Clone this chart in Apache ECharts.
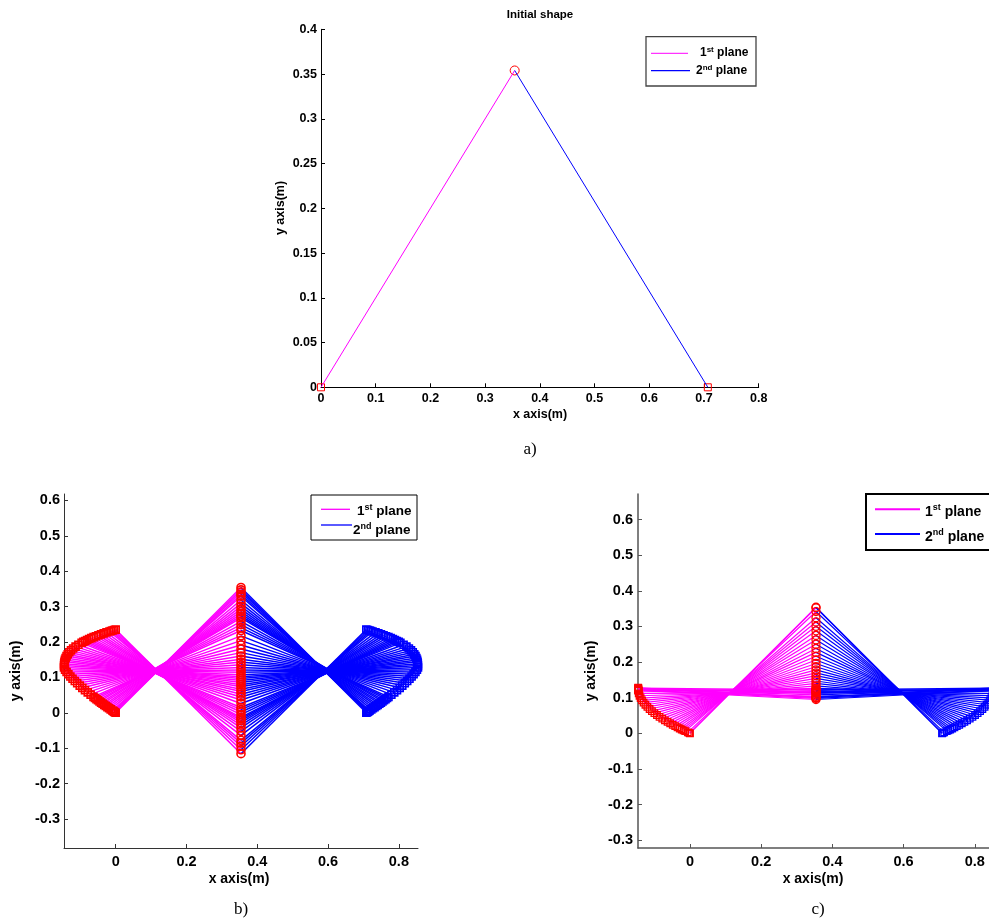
<!DOCTYPE html>
<html>
<head>
<meta charset="utf-8">
<script src="https://cdn.jsdelivr.net/npm/echarts@6/dist/echarts.min.js"></script>
<style>html,body{margin:0;padding:0;background:#fff}#c{width:989px;height:921px}</style>
</head>
<body>
<div id="c"></div>
<script>
// ---------- (a) initial shape ----------
const shapeXA = [0, 0.354, 0.707];
const shapeYA = [0, 0.354, 0];
const xTicksA = [0, 0.1, 0.2, 0.3, 0.4, 0.5, 0.6, 0.7, 0.8];
const yTicksA = [0, 0.05, 0.1, 0.15, 0.2, 0.25, 0.3, 0.35, 0.4];

// ---------- (b) ----------
const midXB = 0.354;
const leftXB = [0, -0.0024, -0.0047, -0.0071, -0.0094, -0.0141, -0.0187, -0.0233, -0.0278, -0.0323, -0.0368, -0.0412, -0.0456, -0.0499, -0.0542, -0.0584, -0.0626, -0.0708, -0.0789, -0.0867, -0.0943, -0.1016, -0.1087, -0.1155, -0.1219, -0.128, -0.1336, -0.1387, -0.143, -0.146, -0.1459, -0.1455, -0.1447, -0.1434, -0.1414, -0.1388, -0.1354, -0.1312, -0.1262, -0.1202, -0.1133, -0.1053, -0.0963, -0.0914, -0.0861, -0.0807, -0.0749, -0.0688, -0.0624, -0.0557, -0.0487, -0.0414, -0.0338, -0.0259, -0.0176, -0.0133, -0.009, -0.0045, 0];
const leftYB = [0, 0.0016, 0.0032, 0.0048, 0.0064, 0.0096, 0.0128, 0.016, 0.0192, 0.0224, 0.0256, 0.0288, 0.032, 0.0352, 0.0384, 0.0416, 0.0448, 0.0512, 0.0576, 0.064, 0.0704, 0.0768, 0.0832, 0.0896, 0.096, 0.1024, 0.1088, 0.1152, 0.1216, 0.128, 0.1334, 0.1387, 0.1441, 0.1494, 0.1548, 0.1601, 0.1655, 0.1708, 0.1762, 0.1815, 0.1869, 0.1922, 0.1976, 0.2002, 0.2029, 0.2056, 0.2083, 0.2109, 0.2136, 0.2163, 0.219, 0.2216, 0.2243, 0.227, 0.2297, 0.231, 0.2323, 0.2337, 0.235];
const midYB = [0.354, 0.3472, 0.341, 0.3349, 0.3293, 0.3187, 0.3092, 0.3006, 0.2929, 0.2858, 0.2793, 0.2734, 0.268, 0.2583, 0.2491, 0.2405, 0.2323, 0.2173, 0.2038, 0.1915, 0.1802, 0.1699, 0.1604, 0.1515, 0.1432, 0.1354, 0.128, 0.121, 0.1142, 0.1077, 0.1021, 0.0966, 0.0909, 0.0852, 0.0793, 0.0732, 0.0667, 0.06, 0.0526, 0.0448, 0.036, 0.0262, 0.015, 0.0089, 0.0021, -0.0051, -0.0131, -0.0173, -0.0223, -0.0281, -0.035, -0.0429, -0.0525, -0.0639, -0.0778, -0.0857, -0.0944, -0.1046, -0.1155];
const rightXB = [0.708, 0.7104, 0.7127, 0.7151, 0.7174, 0.7221, 0.7267, 0.7313, 0.7358, 0.7403, 0.7448, 0.7492, 0.7536, 0.7579, 0.7622, 0.7664, 0.7706, 0.7788, 0.7869, 0.7947, 0.8023, 0.8096, 0.8167, 0.8235, 0.8299, 0.836, 0.8416, 0.8467, 0.851, 0.854, 0.8539, 0.8535, 0.8527, 0.8514, 0.8494, 0.8468, 0.8434, 0.8392, 0.8342, 0.8282, 0.8213, 0.8133, 0.8043, 0.7994, 0.7941, 0.7887, 0.7829, 0.7768, 0.7704, 0.7637, 0.7567, 0.7494, 0.7418, 0.7339, 0.7256, 0.7213, 0.717, 0.7125, 0.708];
const rightYB = [0, 0.0016, 0.0032, 0.0048, 0.0064, 0.0096, 0.0128, 0.016, 0.0192, 0.0224, 0.0256, 0.0288, 0.032, 0.0352, 0.0384, 0.0416, 0.0448, 0.0512, 0.0576, 0.064, 0.0704, 0.0768, 0.0832, 0.0896, 0.096, 0.1024, 0.1088, 0.1152, 0.1216, 0.128, 0.1334, 0.1387, 0.1441, 0.1494, 0.1548, 0.1601, 0.1655, 0.1708, 0.1762, 0.1815, 0.1869, 0.1922, 0.1976, 0.2002, 0.2029, 0.2056, 0.2083, 0.2109, 0.2136, 0.2163, 0.219, 0.2216, 0.2243, 0.227, 0.2297, 0.231, 0.2323, 0.2337, 0.235];
const xTicksB = [0, 0.2, 0.4, 0.6, 0.8];
const yTicksB = [-0.3, -0.2, -0.1, 0, 0.1, 0.2, 0.3, 0.4, 0.5, 0.6];

// ---------- (c) ----------
const midXC = 0.354;
const leftXC = [0, -0.0015, -0.006, -0.0133, -0.0179, -0.0231, -0.0287, -0.0349, -0.0415, -0.0484, -0.0556, -0.0629, -0.0704, -0.0779, -0.0855, -0.0928, -0.1, -0.1069, -0.1134, -0.1196, -0.1252, -0.1303, -0.1348, -0.1386, -0.1417, -0.144, -0.146, -0.1455, -0.145, -0.1445, -0.146, -0.1455, -0.145, -0.144, -0.146, -0.1458, -0.1452];
const leftYC = [0, 0.0007, 0.0027, 0.0061, 0.0083, 0.0108, 0.0136, 0.0168, 0.0202, 0.0239, 0.0279, 0.0321, 0.0366, 0.0414, 0.0463, 0.0515, 0.0569, 0.0625, 0.0683, 0.0742, 0.0802, 0.0864, 0.0927, 0.099, 0.1055, 0.1119, 0.125, 0.128, 0.122, 0.119, 0.126, 0.123, 0.127, 0.12, 0.124, 0.121, 0.125];
const midYC = [0.354, 0.3524, 0.3419, 0.3245, 0.3127, 0.3004, 0.2879, 0.275, 0.2625, 0.2502, 0.2384, 0.2272, 0.2163, 0.206, 0.1962, 0.187, 0.1782, 0.1698, 0.1618, 0.1542, 0.147, 0.14, 0.1332, 0.1267, 0.1203, 0.1141, 0.1016, 0.100, 0.098, 0.104, 0.112, 0.118, 0.122, 0.125, 0.108, 0.095, 0.115];
const rightXC = [0.708, 0.7095, 0.714, 0.7213, 0.7259, 0.7311, 0.7367, 0.7429, 0.7495, 0.7564, 0.7636, 0.7709, 0.7784, 0.7859, 0.7935, 0.8008, 0.808, 0.8149, 0.8214, 0.8276, 0.8332, 0.8383, 0.8428, 0.8466, 0.8497, 0.852, 0.854, 0.8535, 0.853, 0.8525, 0.854, 0.8535, 0.853, 0.852, 0.854, 0.8538, 0.8532];
const rightYC = [0, 0.0007, 0.0027, 0.0061, 0.0083, 0.0108, 0.0136, 0.0168, 0.0202, 0.0239, 0.0279, 0.0321, 0.0366, 0.0414, 0.0463, 0.0515, 0.0569, 0.0625, 0.0683, 0.0742, 0.0802, 0.0864, 0.0927, 0.099, 0.1055, 0.1119, 0.125, 0.128, 0.122, 0.119, 0.126, 0.123, 0.127, 0.12, 0.124, 0.121, 0.125];
const xTicksC = [0, 0.2, 0.4, 0.6, 0.8];
const yTicksC = [-0.3, -0.2, -0.1, 0, 0.1, 0.2, 0.3, 0.4, 0.5, 0.6];

// ---------- styling ----------
const FONT = 'Liberation Sans, Arial, Helvetica, sans-serif';
const SERIF = 'Liberation Serif, Times New Roman, serif';
const MAG = '#ff00ff', BLUE = '#0000ff', RED = '#ff0000';

function axisBase(opts) {
  const o = {
    type: 'value', gridIndex: opts.grid, min: opts.min, max: opts.max,
    splitLine: { show: false },
    axisLine: { show: true, onZero: false, lineStyle: { color: opts.color, width: opts.lw } },
    axisTick: { show: true, inside: true, length: 4, lineStyle: { color: opts.color, width: 1 } },
    axisLabel: { color: '#000', fontWeight: 'bold', fontFamily: FONT, fontSize: opts.fs, margin: opts.margin }
  };
  if (opts.interval !== undefined) o.interval = opts.interval;
  if (opts.custom) {
    o.axisTick.customValues = opts.custom;
    o.axisLabel.customValues = opts.custom;
  }
  return o;
}

function segs(x1, y1, x2, y2) {
  return x1.map((v, i) => ({ coords: [[v, y1[i]], [x2[i], y2[i]]] }));
}
function pts(xs, ys) { return xs.map((v, i) => [v, ys[i]]); }
const midColB = leftXB.map(() => midXB);
const midColC = leftXC.map(() => midXC);

function linesSeries(g, data, color, w) {
  return { type: 'lines', coordinateSystem: 'cartesian2d', xAxisIndex: g, yAxisIndex: g,
    polyline: false, silent: true, data: data,
    lineStyle: { color: color, width: w, opacity: 1, curveness: 0 }, effect: { show: false } };
}
function markSeries(g, data, symbol, size, color, bw) {
  return { type: 'scatter', xAxisIndex: g, yAxisIndex: g, data: data, symbol: symbol, symbolSize: size,
    silent: true, clip: false,
    itemStyle: { color: 'rgba(0,0,0,0)', borderColor: color, borderWidth: bw, opacity: 1 } };
}

function legendText(x, y, num, sup, fs, sfs) {
  return { type: 'text', x: x, y: y, silent: true,
    style: { text: '{n|' + num + '}{s|' + sup + '}{n| plane}',
      align: 'left', verticalAlign: 'middle', textAlign: 'left', textVerticalAlign: 'middle',
      rich: { n: { fontSize: fs, fontWeight: 'bold', fontFamily: FONT, fill: '#000', lineHeight: fs + 3 },
              s: { fontSize: sfs, fontWeight: 'bold', fontFamily: FONT, fill: '#000', verticalAlign: 'top', lineHeight: sfs + 1 } } } };
}
function txt(x, y, s, fs, family, weight, rot) {
  return { type: 'text', x: x, y: y, rotation: rot || 0, silent: true,
    style: { text: s, fontSize: fs, fontFamily: family, fontWeight: weight, fill: '#000',
      align: 'center', verticalAlign: 'middle', textAlign: 'center', textVerticalAlign: 'middle' } };
}
function seg(x1, y1, x2, y2, c, w) {
  return { type: 'line', silent: true, shape: { x1: x1, y1: y1, x2: x2, y2: y2 }, style: { stroke: c, lineWidth: w } };
}
function box(x, y, w, h, c, lw) {
  return { type: 'rect', silent: true, shape: { x: x, y: y, width: w, height: h }, style: { fill: '#fff', stroke: c, lineWidth: lw } };
}

const chart = echarts.init(document.getElementById('c'), null, { renderer: 'canvas' });
const option = {
  animation: false,
  backgroundColor: '#fff',
  grid: [
    { left: 321, top: 29.3, width: 437.7, height: 358, outerBoundsMode: 'none' },
    { left: 64, top: 494, width: 354, height: 354, outerBoundsMode: 'none' },
    { left: 638, top: 494, width: 356, height: 354, outerBoundsMode: 'none' }
  ],
  xAxis: [
    axisBase({ grid: 0, min: xTicksA[0], max: xTicksA[xTicksA.length - 1], interval: 0.1, color: '#000', lw: 1, fs: 12.5, margin: 5 }),
    axisBase({ grid: 1, min: -0.146, max: 0.854, custom: xTicksB, color: '#333', lw: 1, fs: 14.5, margin: 6 }),
    axisBase({ grid: 2, min: -0.146, max: 0.854, custom: xTicksC, color: '#555', lw: 1.5, fs: 14.5, margin: 6 })
  ],
  yAxis: [
    axisBase({ grid: 0, min: yTicksA[0], max: yTicksA[yTicksA.length - 1], interval: 0.05, color: '#000', lw: 1, fs: 12.5, margin: 4 }),
    axisBase({ grid: 1, min: -0.382, max: 0.618, custom: yTicksB, color: '#333', lw: 1, fs: 14.5, margin: 4 }),
    axisBase({ grid: 2, min: -0.322, max: 0.672, custom: yTicksC, color: '#555', lw: 1.5, fs: 14.5, margin: 5 })
  ],
  series: [
    // (a)
    { type: 'line', xAxisIndex: 0, yAxisIndex: 0, data: pts(shapeXA.slice(0, 2), shapeYA.slice(0, 2)), symbol: 'none', silent: true, lineStyle: { color: MAG, width: 1 } },
    { type: 'line', xAxisIndex: 0, yAxisIndex: 0, data: pts(shapeXA.slice(1, 3), shapeYA.slice(1, 3)), symbol: 'none', silent: true, lineStyle: { color: BLUE, width: 1 } },
    markSeries(0, [[shapeXA[0], shapeYA[0]], [shapeXA[2], shapeYA[2]]], 'rect', 7, RED, 1),
    markSeries(0, [[shapeXA[1], shapeYA[1]]], 'circle', 9, RED, 1),
    // (b)
    linesSeries(1, segs(leftXB, leftYB, midColB, midYB), MAG, 1.5),
    markSeries(1, pts(leftXB, leftYB), 'rect', 7, RED, 1.6),
    markSeries(1, pts(midColB, midYB), 'circle', 8, RED, 1.6),
    linesSeries(1, segs(midColB, midYB, rightXB, rightYB), BLUE, 1.5),
    markSeries(1, pts(rightXB, rightYB), 'rect', 7, BLUE, 1.6),
    // (c)
    linesSeries(2, segs(leftXC, leftYC, midColC, midYC), MAG, 1.2),
    markSeries(2, pts(leftXC, leftYC), 'rect', 6.5, RED, 1.3),
    markSeries(2, pts(midColC, midYC), 'circle', 8, RED, 1.3),
    linesSeries(2, segs(midColC, midYC, rightXC, rightYC), BLUE, 1.2),
    markSeries(2, pts(rightXC, rightYC), 'rect', 6.5, BLUE, 1.3)
  ],
  graphic: [
    txt(540, 15, 'Initial shape', 11.5, FONT, 'bold'),
    txt(540, 415, 'x axis(m)', 12.5, FONT, 'bold'),
    txt(281, 208, 'y axis(m)', 12.5, FONT, 'bold', Math.PI / 2),
    txt(239, 879, 'x axis(m)', 14, FONT, 'bold'),
    txt(16, 671, 'y axis(m)', 14, FONT, 'bold', Math.PI / 2),
    txt(813, 879, 'x axis(m)', 14, FONT, 'bold'),
    txt(591, 671, 'y axis(m)', 14, FONT, 'bold', Math.PI / 2),
    txt(530, 450, 'a)', 17, SERIF, 'normal'),
    txt(241, 910, 'b)', 17, SERIF, 'normal'),
    txt(818, 910, 'c)', 17, SERIF, 'normal'),
    // legend a
    box(646, 36.7, 110, 49.3, '#444', 1.3),
    seg(651, 53.3, 688, 53.3, MAG, 1),
    seg(651, 70.7, 690, 70.7, BLUE, 1.3),
    legendText(700, 53, '1', 'st', 12, 8),
    legendText(696, 71, '2', 'nd', 12, 8),
    // legend b
    box(311, 495, 106, 45, '#000', 1),
    seg(321, 509.3, 350, 509.3, MAG, 1.3),
    seg(321, 525, 352, 525, BLUE, 1.3),
    legendText(357, 511.5, '1', 'st', 13.5, 9),
    legendText(353, 530, '2', 'nd', 13.5, 9),
    // legend c
    box(866, 494, 140, 56, '#000', 2),
    seg(875, 509.3, 920, 509.3, MAG, 2),
    seg(875, 534, 920, 534, BLUE, 2),
    legendText(925, 512, '1', 'st', 14, 9),
    legendText(925, 537, '2', 'nd', 14, 9)
  ]
};
chart.setOption(option);
</script>
</body>
</html>
